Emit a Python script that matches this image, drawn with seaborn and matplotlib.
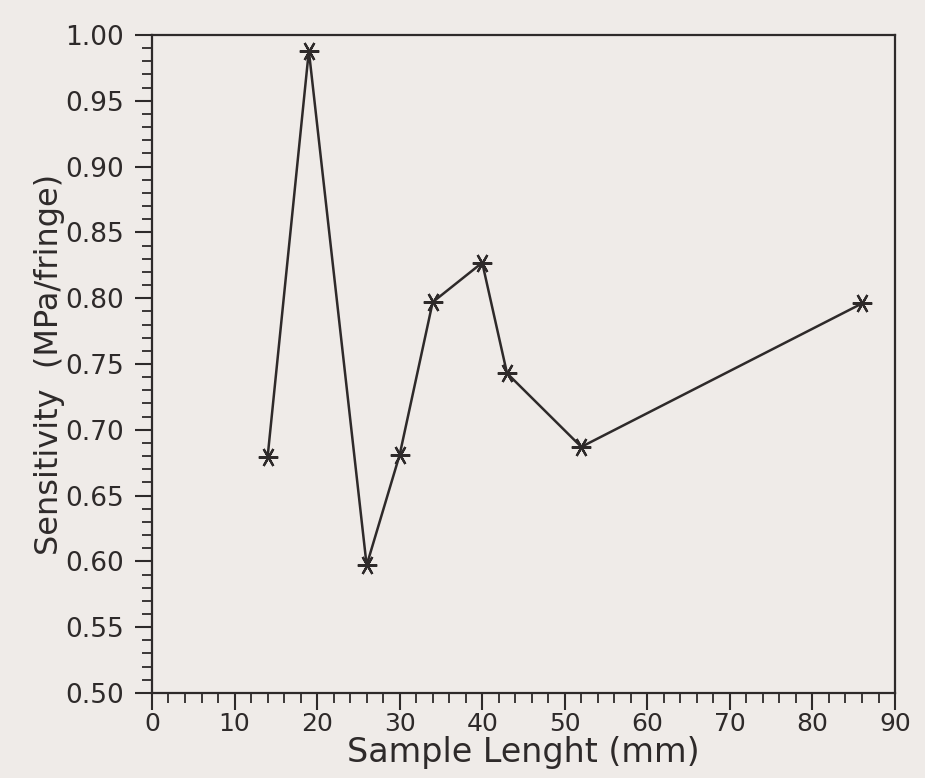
import matplotlib
matplotlib.use("Agg")
import matplotlib.pyplot as plt
import seaborn as sns
import pandas as pd
from matplotlib.ticker import MultipleLocator

# Data
sample_length = [14, 19, 26, 30, 34, 40, 43, 52, 86]
sensitivity = [0.679, 0.988, 0.597, 0.681, 0.797, 0.827, 0.743, 0.687, 0.796]
x_ticks = [0, 10, 20, 30, 40, 50, 60, 70, 80, 90]
y_ticks = [0.50, 0.55, 0.60, 0.65, 0.70, 0.75, 0.80, 0.85, 0.90, 0.95, 1.00]

df = pd.DataFrame({"x": sample_length, "y": sensitivity})

sns.set_style("ticks")
plt.rcParams["font.family"] = ["DejaVu Sans"]

paper = "#efebe8"
ink = "#2e2a2a"

fig = plt.figure(figsize=(9.25, 7.78), dpi=100)
fig.patch.set_facecolor(paper)
ax = fig.add_axes([0.1643, 0.1093, 0.8033, 0.8457])
ax.set_facecolor(paper)

sns.lineplot(data=df, x="x", y="y", ax=ax, color=ink, linewidth=1.8,
             marker=(6, 2, 90), markersize=14, markeredgewidth=1.6,
             markeredgecolor=ink, sort=False)

ax.set_xlim(0, 90)
ax.set_ylim(0.50, 1.00)
ax.set_xticks(x_ticks)
ax.set_yticks(y_ticks)
ax.set_xticklabels([str(v) for v in x_ticks])
ax.set_yticklabels([f"{v:.2f}" for v in y_ticks])
ax.xaxis.set_minor_locator(MultipleLocator(2))
ax.yaxis.set_minor_locator(MultipleLocator(0.01))

ax.tick_params(axis="both", which="major", direction="out", length=12,
               width=1.5, color=ink, labelcolor=ink)
ax.tick_params(axis="both", which="minor", direction="out", length=7,
               width=1.3, color=ink)
ax.tick_params(axis="x", labelsize=18, pad=2)
ax.tick_params(axis="y", labelsize=19, pad=8)

for s in ax.spines.values():
    s.set_color(ink)
    s.set_linewidth(1.6)

ax.set_xlabel("Sample Lenght (mm)", fontsize=24, color=ink, labelpad=0)
ax.set_ylabel("Sensitivity  (MPa/fringe)", fontsize=23, color=ink, labelpad=0)

fig.savefig("out.png", dpi=100, facecolor=paper)
